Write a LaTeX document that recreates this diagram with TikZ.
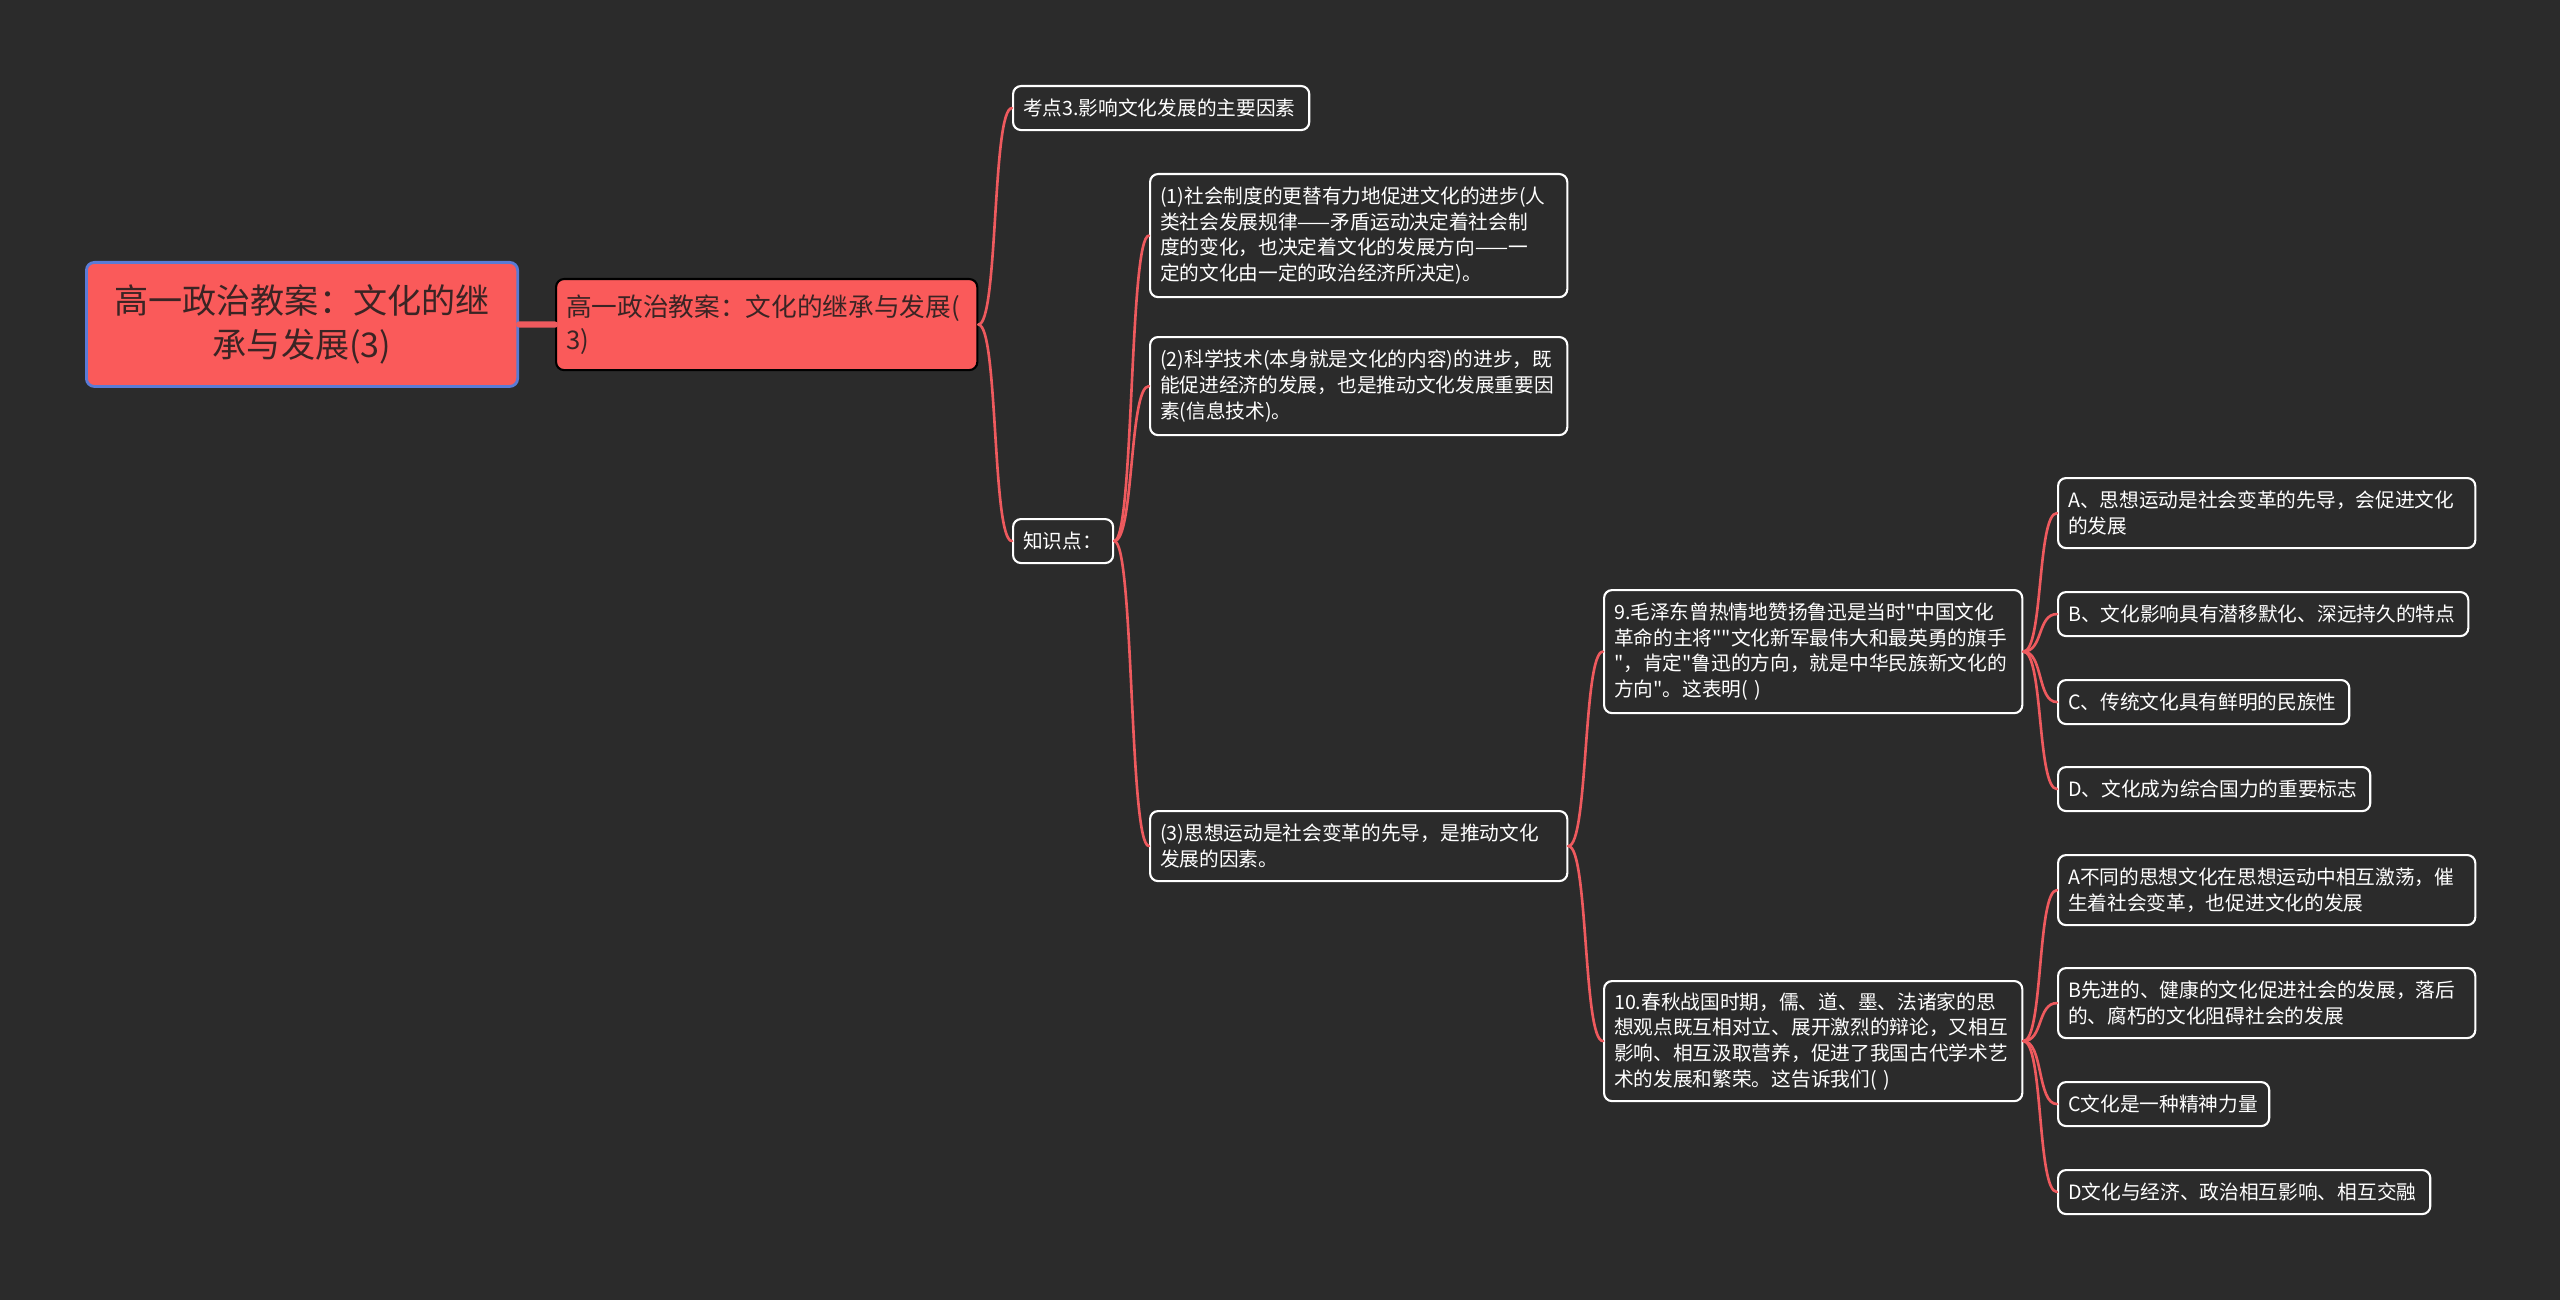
\documentclass[tikz,border=0pt]{standalone}
\usepackage{fontspec}
\setmainfont{Noto Sans CJK SC}[Ligatures=TeXOff]
\definecolor{bg}{HTML}{2B2B2B}
\definecolor{hotred}{HTML}{FA5A5A}
\definecolor{linkred}{HTML}{EE5A5E}
\definecolor{rootblue}{HTML}{5A7BD6}
\definecolor{darktext}{HTML}{3A2424}

\begin{document}
\begin{tikzpicture}[x=0.01cm,y=-0.01cm,line cap=round,
  box/.style={draw=white,line width=0.6pt,rounded corners=0.08cm,fill=bg,text=white,
    anchor=north west,inner xsep=0.1cm,inner ysep=0pt,align=left,
    font=\fontsize{5.6}{7.3}\selectfont},
  hot/.style={box,fill=hotred,text=darktext},
  link/.style={draw=linkred,line width=0.75pt,out=0,in=180,distance=0.2cm},
  trunk/.style={draw=linkred,line width=1.8pt}]
\fill[bg] (0,0) rectangle (2560,1300);
\useasboundingbox (0,0) rectangle (2560,1300);
% root and main topic
\node[hot,draw=rootblue,line width=0.8pt,align=center,text width=4.11cm,minimum height=1.24cm,
  font=\fontsize{9.7}{12.5}\selectfont] (root) at (85,261) {高一政治教案：文化的继\\承与发展(3)};
\node[hot,draw=black,text width=4.01cm,minimum height=0.91cm,
  font=\fontsize{7.3}{9.3}\selectfont] (main) at (555,278) {高一政治教案：文化的继承与发展(\\3)};
% first level
\node[box,text width=2.76cm,minimum height=0.44cm] (kd) at (1012,85) {考点3.影响文化发展的主要因素};
\node[box,text width=0.80cm,minimum height=0.44cm] (zsd) at (1012,518) {知识点：};
% knowledge points
\node[box,text width=3.97cm,minimum height=1.23cm] (p1) at (1149,173) {(1)社会制度的更替有力地促进文化的进步(人\\类社会发展规律——矛盾运动决定着社会制\\度的变化，也决定着文化的发展方向——一\\定的文化由一定的政治经济所决定)。};
\node[box,text width=3.97cm,minimum height=0.98cm] (p2) at (1149,336) {(2)科学技术(本身就是文化的内容)的进步，既\\能促进经济的发展，也是推动文化发展重要因\\素(信息技术)。};
\node[box,text width=3.97cm,minimum height=0.70cm] (p3) at (1149,810) {(3)思想运动是社会变革的先导，是推动文化\\发展的因素。};
% questions
\node[box,text width=3.98cm,minimum height=1.23cm] (q9) at (1603,589) {9.毛泽东曾热情地赞扬鲁迅是当时"中国文化\\革命的主将""文化新军最伟大和最英勇的旗手\\"，肯定"鲁迅的方向，就是中华民族新文化的\\方向"。这表明( )};
\node[box,text width=3.98cm,minimum height=1.20cm] (q10) at (1603,980) {10.春秋战国时期，儒、道、墨、法诸家的思\\想观点既互相对立、展开激烈的辩论，又相互\\影响、相互汲取营养，促进了我国古代学术艺\\术的发展和繁荣。这告诉我们( )};
% options
\node[box,text width=3.97cm,minimum height=0.70cm] (a9) at (2057,477) {A、思想运动是社会变革的先导，会促进文化\\的发展};
\node[box,text width=3.90cm,minimum height=0.44cm] (b9) at (2057,591) {B、文化影响具有潜移默化、深远持久的特点};
\node[box,text width=2.71cm,minimum height=0.44cm] (c9) at (2057,679) {C、传统文化具有鲜明的民族性};
\node[box,text width=2.92cm,minimum height=0.44cm] (d9) at (2057,766) {D、文化成为综合国力的重要标志};
\node[box,text width=3.97cm,minimum height=0.70cm] (a10) at (2057,854) {A不同的思想文化在思想运动中相互激荡，催\\生着社会变革，也促进文化的发展};
\node[box,text width=3.97cm,minimum height=0.70cm] (b10) at (2057,967) {B先进的、健康的文化促进社会的发展，落后\\的、腐朽的文化阻碍社会的发展};
\node[box,text width=1.91cm,minimum height=0.44cm] (c10) at (2057,1081) {C文化是一种精神力量};
\node[box,text width=3.52cm,minimum height=0.44cm] (d10) at (2057,1169) {D文化与经济、政治相互影响、相互交融};
% connectors
\draw[trunk] (root.east) -- (main.west);
\draw[link] (main.east) to (kd.west);
\draw[link] (main.east) to (zsd.west);
\draw[link] (zsd.east) to (p1.west);
\draw[link] (zsd.east) to (p2.west);
\draw[link] (zsd.east) to (p3.west);
\draw[link] (p3.east) to (q9.west);
\draw[link] (p3.east) to (q10.west);
\foreach \o in {a9,b9,c9,d9}
  \draw[link] (q9.east) to (\o.west);
\foreach \o in {a10,b10,c10,d10}
  \draw[link] (q10.east) to (\o.west);
\end{tikzpicture}
\end{document}
